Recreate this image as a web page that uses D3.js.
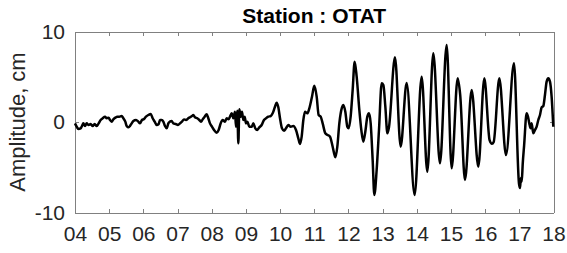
<!DOCTYPE html>
<html lang="en">
<head>
<meta charset="UTF-8">
<title>Station : OTAT</title>
<script src="https://d3js.org/d3.v7.min.js"></script>
<style>
  body { margin: 0; background: #fff; }
  svg { display: block; font-family: 'Liberation Sans', Arial, sans-serif; }
  .axis path, .axis line { stroke: #808080; stroke-width: 1px; shape-rendering: crispEdges; }
  .axis text { fill: #262626; font-size: 21px; }
  .title { font-size: 21px; font-weight: bold; fill: #000; }
  .ylabel { font-size: 22px; fill: #262626; }
</style>
</head>
<body>
<svg width="567" height="253"></svg>
<script>
// time in hours (04 .. 18) and tide gauge amplitude in cm
const hours = [
  4.000, 4.049, 4.098, 4.166, 4.205, 4.244, 4.293, 4.341, 4.400, 4.458,
  4.517, 4.575, 4.634, 4.692, 4.751, 4.810, 4.878, 4.927, 4.985, 5.024,
  5.073, 5.121, 5.180, 5.238, 5.297, 5.365, 5.414, 5.472, 5.512, 5.570,
  5.609, 5.658, 5.707, 5.785, 5.853, 5.902, 5.960, 6.019, 6.077, 6.145,
  6.214, 6.272, 6.331, 6.389, 6.448, 6.487, 6.536, 6.584, 6.633, 6.682,
  6.731, 6.779, 6.828, 6.877, 6.945, 7.013, 7.072, 7.130, 7.189, 7.247,
  7.316, 7.365, 7.423, 7.462, 7.511, 7.579, 7.638, 7.686, 7.735, 7.794,
  7.852, 7.901, 7.950, 8.008, 8.067, 8.145, 8.203, 8.262, 8.320, 8.389,
  8.437, 8.490, 8.535, 8.584, 8.632, 8.681, 8.710, 8.749, 8.779, 8.808,
  8.847, 8.886, 8.925, 8.964, 9.003, 9.042, 9.100, 9.169, 9.217, 9.276,
  9.334, 9.393, 9.461, 9.530, 9.588, 9.656, 9.725, 9.783, 9.851, 9.900,
  9.949, 9.998, 10.056, 10.115, 10.173, 10.241, 10.310, 10.388, 10.466, 10.534,
  10.583, 10.632, 10.681, 10.729, 10.798, 10.856, 10.934, 11.002, 11.071, 11.129,
  11.188, 11.246, 11.324, 11.392, 11.461, 11.539, 11.617, 11.675, 11.734, 11.812,
  11.851, 11.909, 11.968, 12.007, 12.065, 12.124, 12.182, 12.241, 12.319, 12.377,
  12.436, 12.494, 12.553, 12.602, 12.651, 12.709, 12.758, 12.826, 12.894, 12.973,
  13.022, 13.080, 13.140, 13.185, 13.362, 13.528, 13.703, 13.937, 14.142, 14.308,
  14.483, 14.678, 14.874, 15.020, 15.196, 15.270, 15.410, 15.605, 15.800, 15.976,
  16.130, 16.200, 16.250, 16.415, 16.610, 16.844, 16.990, 17.020, 17.045, 17.070,
  17.100, 17.140, 17.214, 17.253, 17.292, 17.331, 17.360, 17.409, 17.458, 17.507,
  17.555, 17.604, 17.653, 17.702, 17.750, 17.799, 17.848, 17.897, 17.945, 17.994
];
const amplitude = [
  -0.15, -0.52, -0.77, -0.70, -0.44, -0.15, -0.44, -0.15, -0.33, -0.22,
  -0.44, -0.22, -0.44, -0.15, 0.22, 0.41, 0.59, 0.41, 0.48, 0.22,
  0.04, 0.29, 0.48, 0.59, 0.59, 0.66, 0.41, 0.04, -0.44, -0.59,
  -0.44, -0.15, 0.11, 0.22, 0.04, -0.15, 0.22, 0.33, 0.59, 0.77,
  0.88, 0.41, 0.04, -0.33, -0.22, 0.22, 0.22, 0.04, -0.44, -0.70,
  -0.15, 0.04, 0.11, -0.15, -0.22, -0.33, -0.15, 0.04, 0.29, 0.22,
  0.41, 0.52, 0.66, 0.77, 0.52, 0.41, 0.22, 0.04, 0.29, 0.59,
  0.85, 0.41, -0.15, -0.52, -0.88, -1.18, -0.88, -0.15, 0.22, 0.04,
  0.41, 0.30, 0.59, 0.96, 0.41, 1.14, -0.52, 1.25, -2.36, 1.40,
  0.59, 1.14, 0.22, 0.59, -0.15, 0.04, -0.52, -0.52, -0.15, -0.70,
  -0.88, -0.59, -0.33, 0.22, 0.41, 0.59, 0.66, 0.96, 1.69, 2.14,
  1.62, 0.41, -0.70, -0.96, -0.70, -0.33, -0.52, -0.44, -0.88, -1.80,
  -2.43, -1.62, 0.22, 1.14, 0.96, 1.51, 2.80, 4.01, 2.80, 0.77,
  0.59, -0.15, -1.25, -1.44, -1.62, -2.73, -3.90, -2.73, -0.15, 1.62,
  1.88, 1.14, -0.52, -0.70, 0.59, 3.54, 6.67, 5.01, 1.33, -0.88,
  -2.17, -1.07, 0.59, 0.96, -0.15, -4.20, -8.07, -5.30, -0.88, 4.27,
  4.09, 1.69, -1.25, -0.60, 7.15, -2.73, 4.30, -8.07, 5.01, -5.49,
  7.59, -4.57, 8.51, -5.12, 4.83, 3.00, -6.41, 3.54, -4.94, 4.83,
  -2.00, -2.40, -2.20, 4.83, -3.65, 6.48, -6.80, -7.30, -6.20, -6.60,
  -4.60, -2.60, 0.96, 0.59, -0.15, -0.70, -0.15, -1.25, -0.88, -0.52,
  0.22, 0.77, 1.62, 1.77, 2.98, 4.46, 4.83, 4.46, 2.80, -0.52
];
const hourTicks = [4, 5, 6, 7, 8, 9, 10, 11, 12, 13, 14, 15, 16, 17, 18];
const hourLabels = ["04", "05", "06", "07", "08", "09", "10", "11", "12", "13", "14", "15", "16", "17", "18"];
const ampTicks = [-10, 0, 10];

const margin = {top: 31.5, right: 13.5, bottom: 40.5, left: 75};
const width = 567 - margin.left - margin.right,
      height = 253 - margin.top - margin.bottom;

const svg = d3.select("svg");
const g = svg.append("g")
  .attr("transform", `translate(${margin.left},${margin.top})`);

const x = d3.scaleLinear().domain([4, 18]).range([0, width]);
const y = d3.scaleLinear().domain([-10, 10]).range([height, 0]);

// box with inward ticks, MATLAB style
g.append("g")
  .attr("class", "axis")
  .attr("transform", `translate(0,${height})`)
  .call(d3.axisBottom(x).tickValues(hourTicks)
    .tickFormat((d, i) => hourLabels[i])
    .tickSize(-4).tickSizeOuter(0).tickPadding(14));

g.append("g")
  .attr("class", "axis")
  .call(d3.axisTop(x).tickValues(hourTicks).tickFormat("")
    .tickSize(-4).tickSizeOuter(0));

g.append("g")
  .attr("class", "axis")
  .call(d3.axisLeft(y).tickValues(ampTicks)
    .tickFormat(d => String(d))
    .tickSize(-4).tickSizeOuter(0).tickPadding(10));

g.append("g")
  .attr("class", "axis")
  .attr("transform", `translate(${width},0)`)
  .call(d3.axisRight(y).tickValues(ampTicks).tickFormat("")
    .tickSize(-4).tickSizeOuter(0));

const line = d3.line()
  .x((d, i) => x(hours[i]))
  .y(d => y(d))
  .curve(d3.curveMonotoneX);

g.append("path")
  .datum(amplitude)
  .attr("fill", "none")
  .attr("stroke", "#000")
  .attr("stroke-width", 2.5)
  .attr("stroke-linejoin", "round")
  .attr("d", line);

svg.append("text")
  .attr("class", "title")
  .attr("x", margin.left + width / 2)
  .attr("y", 23)
  .attr("text-anchor", "middle")
  .text("Station : OTAT");

svg.append("text")
  .attr("class", "ylabel")
  .attr("transform", `translate(25,${margin.top + height / 2}) rotate(-90)`)
  .attr("text-anchor", "middle")
  .text("Amplitude, cm");
</script>
</body>
</html>
